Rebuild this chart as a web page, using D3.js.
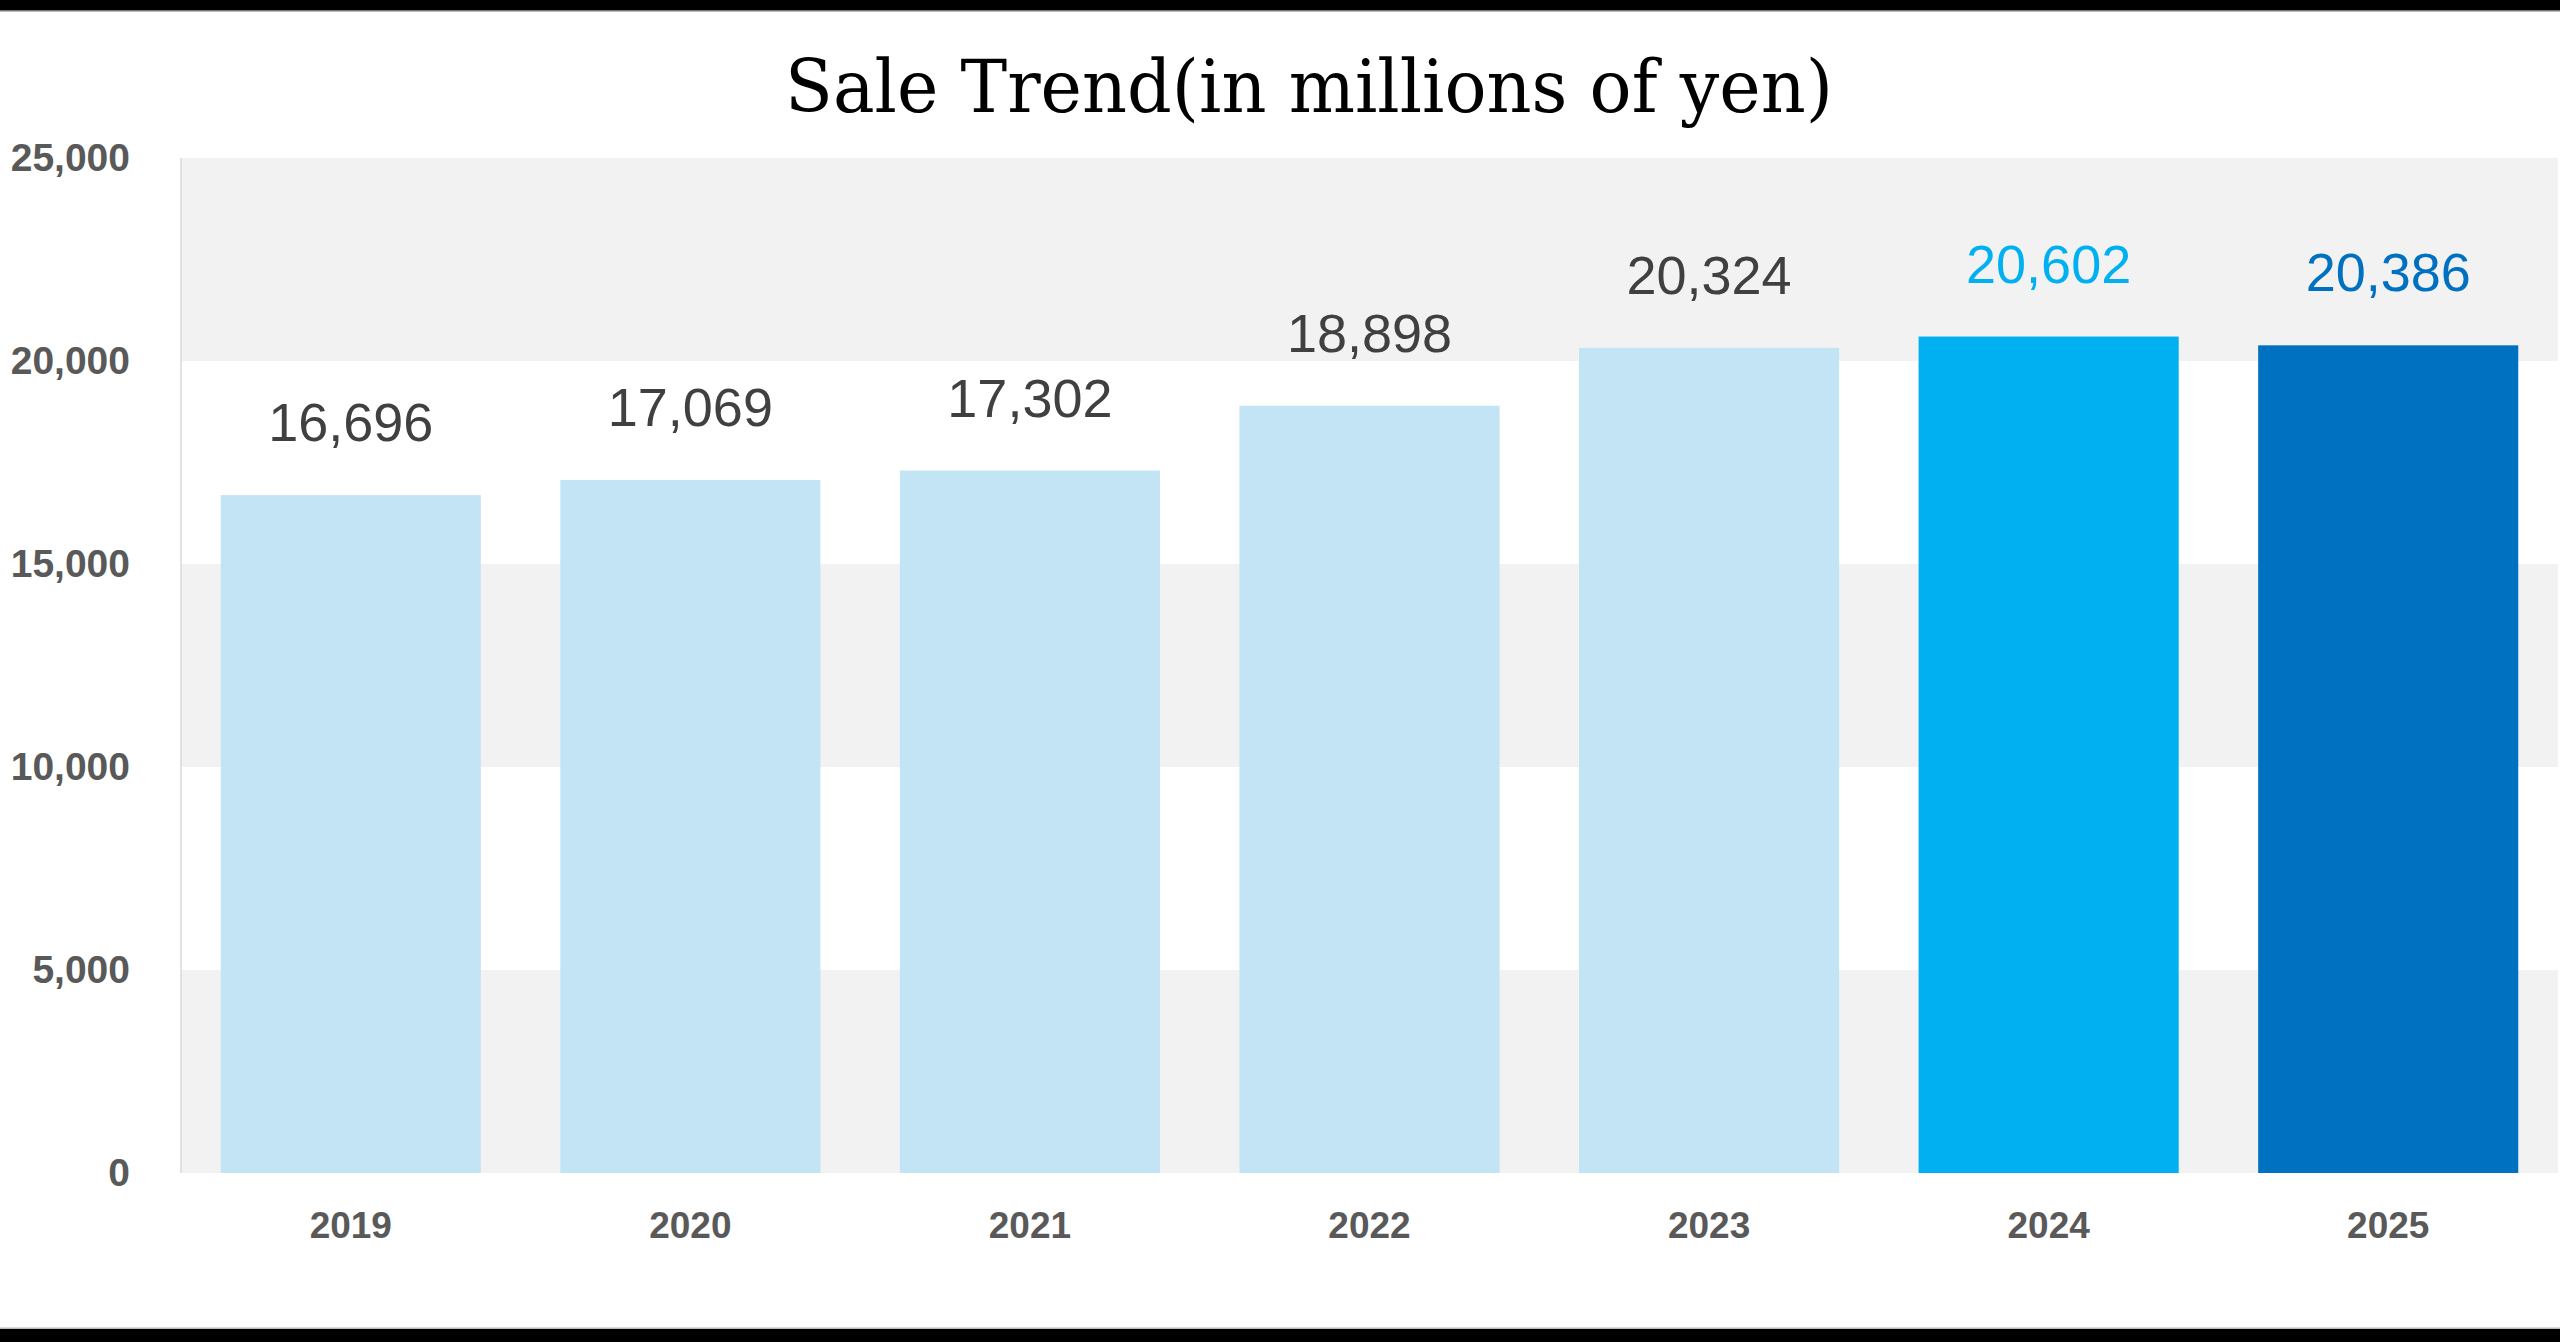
<!DOCTYPE html>
<html>
<head>
<meta charset="utf-8">
<script src="https://cdn.jsdelivr.net/npm/d3@7"></script>
<style>
html,body{margin:0;padding:0;background:#fff;overflow:hidden;}
svg{display:block;}
</style>
</head>
<body>
<script>
const years = ["2019","2020","2021","2022","2023","2024","2025"];
const sales = [16696, 17069, 17302, 18898, 20324, 20602, 20386];
const barColors = ["#c2e4f4","#c2e4f4","#c2e4f4","#c2e4f4","#c2e4f4","#00b0f0","#0070c0"];
const labelColors = ["#404040","#404040","#404040","#404040","#404040","#00b0f0","#0070c0"];
const yTicks = [0, 5000, 10000, 15000, 20000, 25000];
const title = "Sale Trend(in millions of yen)";

const W = 2560, H = 1342;
const m = {left: 181, right: 2, top: 158, bottom: 1173};

const svg = d3.select("body").append("svg").attr("width", W).attr("height", H);
svg.append("rect").attr("width", W).attr("height", H).attr("fill", "#fff");

// frame bars
svg.append("rect").attr("x",0).attr("y",0).attr("width",W).attr("height",10).attr("fill","#000");
svg.append("rect").attr("x",0).attr("y",10).attr("width",W).attr("height",1.5).attr("fill","#777");
svg.append("rect").attr("x",0).attr("y",1329).attr("width",W).attr("height",13).attr("fill","#000");
svg.append("rect").attr("x",0).attr("y",1327.5).attr("width",W).attr("height",1.5).attr("fill","#bbb");

const x = d3.scaleBand().domain(years).range([m.left, W - m.right]).paddingInner(0.234).paddingOuter(0.117);
const y = d3.scaleLinear().domain([0, 25000]).range([m.bottom, m.top]);

// alternating bands
const bands = d3.range(0, 25000, 5000).filter((d,i) => i % 2 === 0);
svg.append("g").selectAll("rect").data(bands).join("rect")
  .attr("x", m.left).attr("width", W - m.right - m.left)
  .attr("y", d => y(d + 5000)).attr("height", d => y(d) - y(d + 5000))
  .attr("fill", "#f2f2f2");

// left axis line
svg.append("line").attr("x1", m.left).attr("x2", m.left).attr("y1", m.top).attr("y2", m.bottom)
  .attr("stroke", "#d9d9d9").attr("stroke-width", 1.5);

// y axis
const yAxis = d3.axisLeft(y).tickValues(yTicks).tickFormat(d3.format(",")).tickSize(0).tickPadding(51);
const gy = svg.append("g").attr("transform", `translate(${m.left},0)`).call(yAxis);
gy.select(".domain").remove();
gy.selectAll("text").attr("fill", "#595959").attr("font-family", "Liberation Sans, Arial, sans-serif")
  .attr("font-weight", "bold").attr("font-size", 39);

// x axis
const xAxis = d3.axisBottom(x).tickSize(0).tickPadding(39);
const gx = svg.append("g").attr("transform", `translate(0,${m.bottom})`).call(xAxis);
gx.select(".domain").remove();
gx.selectAll("text").attr("fill", "#595959").attr("font-family", "Liberation Sans, Arial, sans-serif")
  .attr("font-weight", "bold").attr("font-size", 37);

// bars
svg.append("g").selectAll("rect").data(sales).join("rect")
  .attr("x", (d,i) => x(years[i])).attr("width", x.bandwidth())
  .attr("y", d => y(d)).attr("height", d => y(0) - y(d))
  .attr("fill", (d,i) => barColors[i]);

// value labels
svg.append("g").selectAll("text").data(sales).join("text")
  .attr("x", (d,i) => x(years[i]) + x.bandwidth()/2)
  .attr("y", d => y(d) - 54)
  .attr("text-anchor", "middle")
  .attr("font-family", "Liberation Sans, Arial, sans-serif")
  .attr("font-size", 54)
  .attr("fill", (d,i) => labelColors[i])
  .text(d => d3.format(",")(d));

// title
svg.append("text").attr("x", 1309).attr("y", 112)
  .attr("text-anchor", "middle")
  .attr("font-family", "DejaVu Serif, Liberation Serif, serif")
  .attr("font-size", 72)
  .attr("textLength", 1048).attr("lengthAdjust", "spacingAndGlyphs")
  .attr("fill", "#000")
  .text(title);
</script>
</body>
</html>
